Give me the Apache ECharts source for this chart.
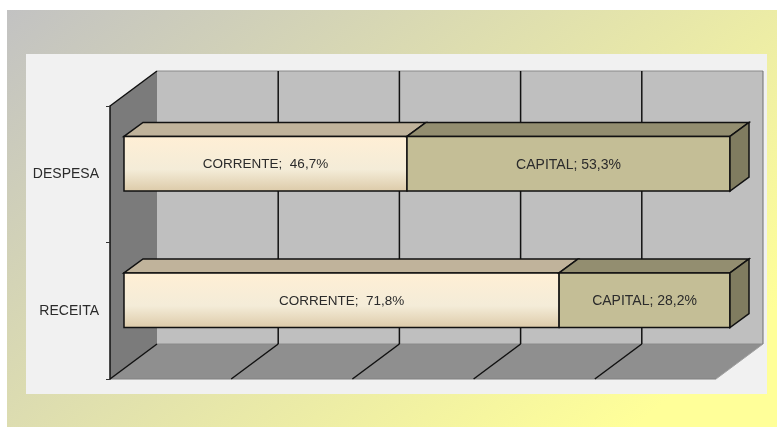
<!DOCTYPE html>
<html>
<head>
<meta charset="utf-8">
<title>Receita e despesa</title>
<script src="https://cdn.jsdelivr.net/npm/echarts@6/dist/echarts.min.js"></script>
<style>
  html, body { margin: 0; padding: 0; background: #fff; }
  #main { width: 777px; height: 427px; }
</style>
</head>
<body>
<div id="main"></div>
<script>
const categories = ["RECEITA", "DESPESA"];
const corrente = [71.8, 46.7];
const capital = [28.2, 53.3];
const seriesNames = ["CORRENTE", "CAPITAL"];
const xTicks = [0, 20, 40, 60, 80, 100];

// depth of the fake 3d box and of the bars, in px
const wallDx = 47, wallDy = -35;
const barDx = 14, barDy = -10.5;
const barDepthX = 19, barDepthY = -14;

const fmt = (v) => v.toFixed(1).replace(".", ",") + "%";
const poly = (points, fill, stroke, lineWidth) => ({
  type: "polygon",
  shape: { points: points },
  style: { fill: fill, stroke: stroke || null, lineWidth: lineWidth || 0 },
});
const line = (x1, y1, x2, y2, color, width) => ({
  type: "line",
  shape: { x1: x1, y1: y1, x2: x2, y2: y2 },
  style: { stroke: color, lineWidth: width },
});

// walls and floor
const renderWalls = (params) => {
  const c = params.coordSys;
  const l = c.x, r = c.x + c.width, t = c.y, b = c.y + c.height;
  return {
    type: "group",
    children: [
      poly([[l + wallDx, t + wallDy], [r + wallDx, t + wallDy], [r + wallDx, b + wallDy], [l + wallDx, b + wallDy]], "#bfbfbf"),
      poly([[l, t], [l + wallDx, t + wallDy], [l + wallDx, b + wallDy], [l, b]], "#7b7b7b"),
      poly([[l, b], [l + wallDx, b + wallDy], [r + wallDx, b + wallDy], [r, b]], "#8f8f8f"),
      line(l + wallDx, t + wallDy, r + wallDx, t + wallDy, "#8a8a8a", 1),
      line(l + wallDx, b + wallDy, r + wallDx, b + wallDy, "#8a8a8a", 1),
      line(r + wallDx, t + wallDy, r + wallDx, b + wallDy, "#6f6f6f", 1),
      line(l, b, r, b, "#808080", 1),
      line(r, b, r + wallDx, b + wallDy, "#a0a0a0", 1),
      line(l, t, l + wallDx, t + wallDy, "#111", 1.5),
    ],
  };
};

// one gridline, across the back wall and the floor
const renderGrid = (params, api) => {
  const c = params.coordSys;
  const x = api.coord([api.value(0), 0])[0];
  const t = c.y, b = c.y + c.height;
  const children = [];
  if (api.value(0) > 0 && api.value(0) < 100) {
    children.push(line(x + wallDx, t + wallDy, x + wallDx, b + wallDy, "#111", 1.5));
  }
  if (api.value(0) < 100) {
    children.push(line(x, b, x + wallDx, b + wallDy, "#111", 1.5));
  }
  return { type: "group", children: children };
};

const renderBar = (colors) => (params, api) => {
  const start = api.coord([api.value(0), api.value(2)]);
  const end = api.coord([api.value(1), api.value(2)]);
  const h = api.size([0, 1])[1] * 0.4;
  const x1 = start[0] + barDx, x2 = end[0] + barDx;
  const y1 = start[1] + barDy - h / 2, y2 = y1 + h;
  const children = [
    poly([[x1, y1], [x1 + barDepthX, y1 + barDepthY], [x2 + barDepthX, y1 + barDepthY], [x2, y1]], colors.top, "#111", 1.5),
    poly([[x1, y1], [x2, y1], [x2, y2], [x1, y2]], colors.front, "#111", 1.5),
  ];
  if (api.value(1) >= 99.95) {
    children.push(poly([[x2, y1], [x2 + barDepthX, y1 + barDepthY], [x2 + barDepthX, y2 + barDepthY], [x2, y2]], colors.side, "#111", 1.5));
  }
  children.push({
    type: "text",
    style: {
      x: (x1 + x2) / 2,
      y: (y1 + y2) / 2 + 1,
      text: params.seriesName + (params.seriesName === "CORRENTE" ? ";  " : "; ") + fmt(api.value(1) - api.value(0)),
      align: "center",
      verticalAlign: "middle",
      fill: "#2b2b2b",
      font: colors.fontSize + "px 'Liberation Sans', Arial, sans-serif",
    },
  });
  return { type: "group", children: children };
};

const correnteFront = new echarts.graphic.LinearGradient(0, 0, 0, 1, [
  { offset: 0, color: "#ffefd5" },
  { offset: 0.6, color: "#f4ecd8" },
  { offset: 1, color: "#dccaa8" },
]);

const chart = echarts.init(document.getElementById("main"), null, { renderer: "canvas" });
chart.setOption({
  animation: false,
  backgroundColor: "#ffffff",
  graphic: [
    {
      type: "rect",
      z: -10,
      shape: { x: 7, y: 10, width: 770, height: 417 },
      style: {
        // pixel coords: the original runs steeper than the box diagonal
        fill: new echarts.graphic.LinearGradient(7, 10, 501, 591, [
          { offset: 0, color: "#c2c2c2" },
          { offset: 0.95, color: "#ffff99" },
          { offset: 1, color: "#ffff99" },
        ], true),
      },
    },
    {
      type: "rect",
      z: -9,
      shape: { x: 26, y: 54, width: 741, height: 340 },
      style: { fill: "#f1f1f1" },
    },
  ],
  grid: { left: 110, top: 106, width: 606, height: 273, containLabel: false },
  xAxis: {
    type: "value",
    min: 0,
    max: 100,
    interval: 20,
    axisLine: { show: false },
    axisTick: { show: false },
    axisLabel: { show: false },
    splitLine: { show: false },
  },
  yAxis: {
    type: "category",
    data: categories,
    z: 5,
    axisLine: { show: true, onZero: false, lineStyle: { color: "#111", width: 1.5 } },
    axisTick: { show: true, length: 4, lineStyle: { color: "#333", width: 1 } },
    axisLabel: {
      margin: 11,
      color: "#2b2b2b",
      fontSize: 14,
      fontFamily: "'Liberation Sans', Arial, sans-serif",
    },
    splitLine: { show: false },
  },
  series: [
    { type: "custom", name: "walls", z: 1, silent: true, clip: false, data: [[0]], renderItem: renderWalls },
    { type: "custom", name: "grid", z: 2, silent: true, clip: false, data: xTicks.map((v) => [v]), renderItem: renderGrid },
    {
      type: "custom",
      name: seriesNames[0],
      z: 3,
      clip: false,
      data: corrente.map((v, i) => [0, v, i]),
      renderItem: renderBar({ front: correnteFront, top: "#c0b39b", side: "#a89d86", fontSize: 13.5 }),
    },
    {
      type: "custom",
      name: seriesNames[1],
      z: 4,
      clip: false,
      data: capital.map((v, i) => [corrente[i], corrente[i] + v, i]),
      renderItem: renderBar({ front: "#c4be96", top: "#938e70", side: "#807c60", fontSize: 14 }),
    },
  ],
});
</script>
</body>
</html>
